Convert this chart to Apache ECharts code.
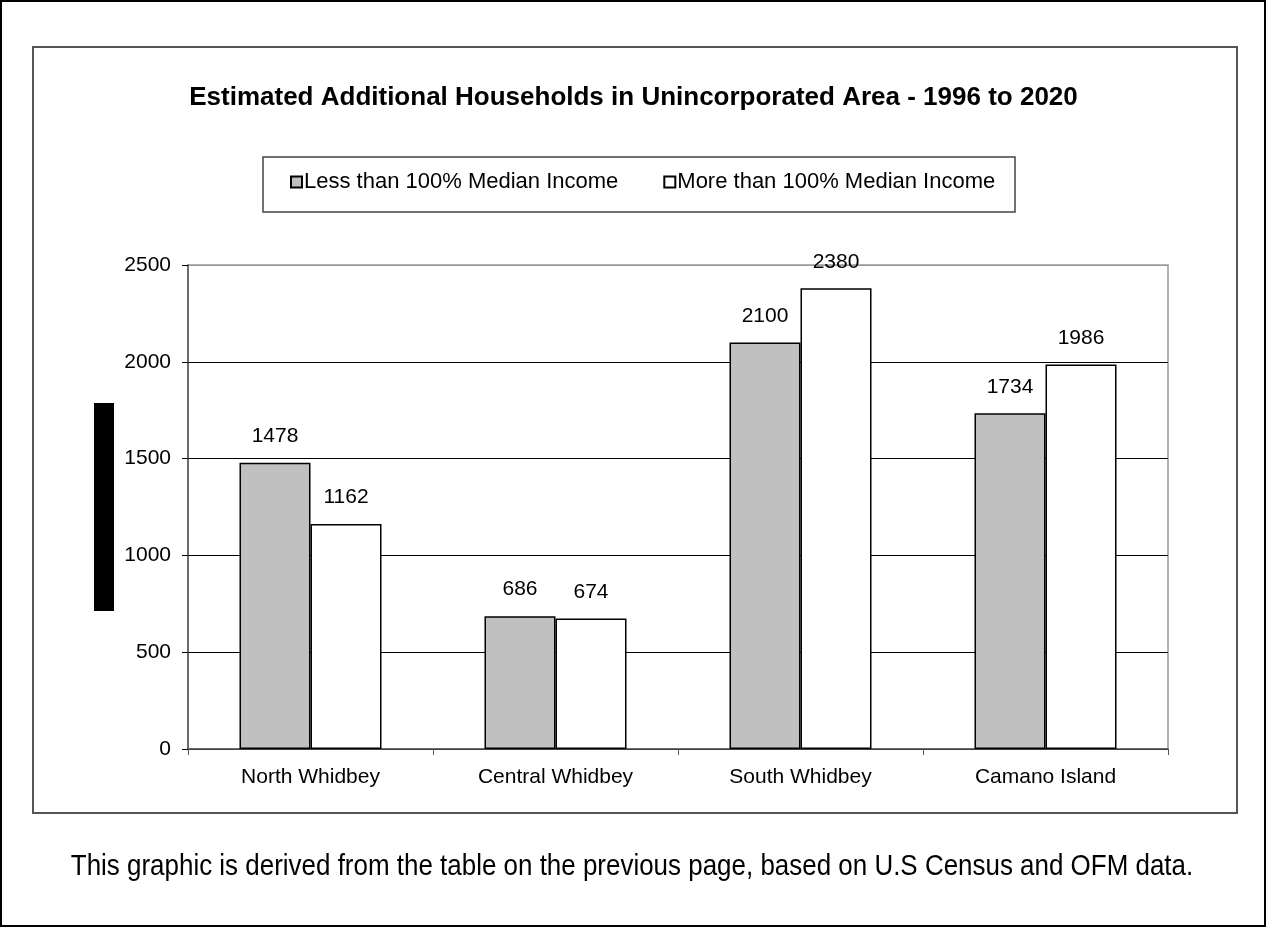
<!DOCTYPE html>
<html>
<head>
<meta charset="utf-8">
<script src="https://cdn.jsdelivr.net/npm/echarts@6/dist/echarts.min.js"></script>
<style>
  html, body { margin: 0; padding: 0; background: #fff; }
  #chart { width: 1267px; height: 928px; }
</style>
</head>
<body>
<div id="chart"></div>
<script>
const categories = ['North Whidbey', 'Central Whidbey', 'South Whidbey', 'Camano Island'];
const seriesNames = ['Less than 100% Median Income', 'More than 100% Median Income'];
const lessThanMedian = [1478, 686, 2100, 1734];
const moreThanMedian = [1162, 674, 2380, 1986];
const yTicks = { min: 0, max: 2500, interval: 500 };
const titleText = 'Estimated Additional Households in Unincorporated Area - 1996 to 2020';
const footerText = 'This graphic is derived from the table on the previous page, based on U.S Census and OFM data.';

const FONT = '"Liberation Sans", Arial, sans-serif';
const chart = echarts.init(document.getElementById('chart'), null, { renderer: 'canvas' });

const labelStyle = { show: true, position: 'top', distance: 16, color: '#000', fontFamily: FONT, fontSize: 21 };

chart.setOption({
  backgroundColor: '#fff',
  animation: false,
  title: {
    text: titleText,
    left: 'center',
    top: 85,
    padding: 0,
    textStyle: { fontFamily: FONT, fontSize: 26, fontWeight: 'bold', color: '#000' }
  },
  legend: {
    data: seriesNames,
    left: 290,
    top: 171,
    padding: 0,
    itemGap: 45,
    itemWidth: 11,
    itemHeight: 11,
    icon: 'rect',
    selectedMode: false,
    textStyle: { fontFamily: FONT, fontSize: 22, color: '#000', padding: [0, 0, 0, -3] }
  },
  grid: {
    left: 188, right: 99, top: 265, bottom: 179,
    show: true, borderColor: '#999', borderWidth: 1.5, backgroundColor: '#fff'
  },
  xAxis: {
    type: 'category',
    data: categories,
    axisLine: { lineStyle: { color: '#555', width: 1.5 } },
    axisTick: { show: true, length: 6, lineStyle: { color: '#555' } },
    axisLabel: { color: '#000', fontFamily: FONT, fontSize: 21, margin: 18 }
  },
  yAxis: {
    type: 'value',
    min: yTicks.min, max: yTicks.max, interval: yTicks.interval,
    axisLine: { show: true, lineStyle: { color: '#555', width: 1.5 } },
    axisTick: { show: true, length: 6, lineStyle: { color: '#000' } },
    axisLabel: { color: '#000', fontFamily: FONT, fontSize: 21, margin: 17, formatter: (v) => String(v) },
    splitLine: { show: true, lineStyle: { color: ['#000', '#000', '#000', '#000', '#000', '#999'], width: 1 } }
  },
  series: [
    {
      name: seriesNames[0], type: 'bar', data: lessThanMedian,
      barWidth: 71, barGap: '0%',
      itemStyle: { color: '#C0C0C0', borderColor: '#000', borderWidth: 1.5 },
      label: labelStyle
    },
    {
      name: seriesNames[1], type: 'bar', data: moreThanMedian,
      barWidth: 71, barGap: '0%',
      itemStyle: { color: '#FFFFFF', borderColor: '#000', borderWidth: 1.5 },
      label: labelStyle
    }
  ],
  graphic: [
    { type: 'rect', z: -10, silent: true, shape: { x: 1, y: 1, width: 1264, height: 925 },
      style: { fill: 'none', stroke: '#000', lineWidth: 2 } },
    { type: 'rect', z: -9, silent: true, shape: { x: 33, y: 47, width: 1204, height: 766 },
      style: { fill: 'none', stroke: '#555', lineWidth: 2 } },
    { type: 'rect', z: -8, silent: true, shape: { x: 263, y: 157, width: 752, height: 55 },
      style: { fill: 'none', stroke: '#444', lineWidth: 1.5 } },
    { type: 'rect', silent: true, shape: { x: 94, y: 403, width: 20, height: 208 },
      style: { fill: '#000' } },
    { type: 'text', silent: true, x: 632, y: 867, scaleX: 0.895,
      style: { text: footerText, fill: '#000', font: '29px "Liberation Sans", Arial, sans-serif',
               textAlign: 'center', textVerticalAlign: 'middle' } }
  ]
});
</script>
</body>
</html>
